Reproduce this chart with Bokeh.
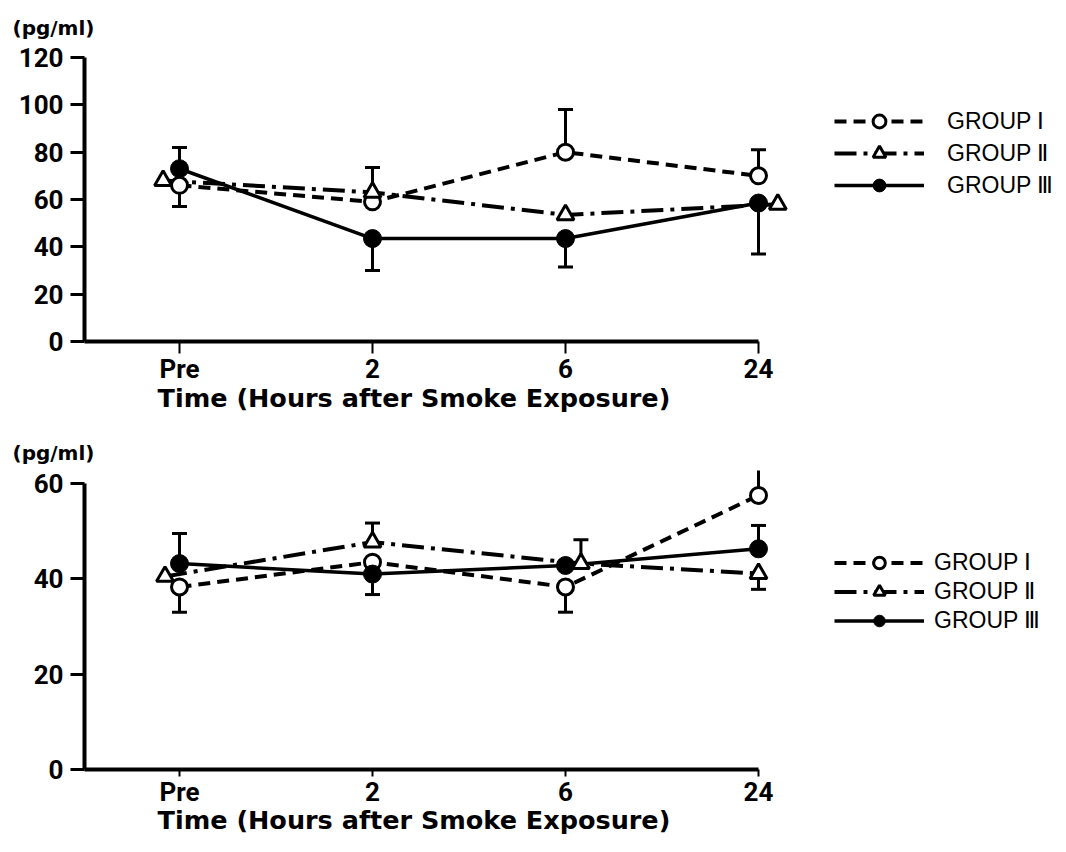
from bokeh.plotting import figure
from bokeh.models import (Range1d, FixedTicker, Whisker, TeeHead, ColumnDataSource,
                          Legend, LegendItem, Title)
from bokeh.layouts import column
from bokeh.embed import file_html
from bokeh.resources import INLINE

# ---------------- data ----------------
TIMES = ["Pre", "2", "6", "24"]
GROUPS = ["GROUP \u2160", "GROUP \u2161", "GROUP \u2162"]
UNIT = "(pg/ml)"
X_TITLE = "Time (Hours after Smoke Exposure)"

# upper panel
TOP_Y_TICKS = [0, 20, 40, 60, 80, 100, 120]
TOP_G1 = [66, 59, 80, 70]
TOP_G2 = [68, 63, 53.5, 58]
TOP_G3 = [73, 43.5, 43.5, 58.5]
TOP_G1_ERR_UP = [None, None, 98, 81]
TOP_G1_ERR_DOWN = [57, None, None, None]
TOP_G2_ERR_UP = [None, 73.5, None, None]
TOP_G2_ERR_DOWN = [None, None, None, None]
TOP_G3_ERR_UP = [82, None, None, None]
TOP_G3_ERR_DOWN = [None, 30, 31.5, 37]

# lower panel
BOT_Y_TICKS = [0, 20, 40, 60]
BOT_G1 = [38.3, 43.5, 38.3, 57.5]
BOT_G2 = [40.5, 47.7, 43.2, 41.1]
BOT_G3 = [43.2, 41, 42.8, 46.3]
BOT_G1_ERR_UP = [None, None, None, 64.7]
BOT_G1_ERR_DOWN = [33, None, 33, None]
BOT_G2_ERR_UP = [None, 51.7, 48.2, None]
BOT_G2_ERR_DOWN = [None, None, None, 37.8]
BOT_G3_ERR_UP = [49.5, None, None, 51.2]
BOT_G3_ERR_DOWN = [None, 36.7, None, None]

# ---------------- styling ----------------
# small horizontal dodge of the triangle markers (as in the original print)
TOP_G2_DODGE = [-0.085, 0, 0, 0.1]
BOT_G2_DODGE = [-0.075, 0, 0.08, 0]

TICK_FONT = "Roboto"
TITLE_FONT = "DejaVu Sans"
LEGEND_FONT = "Liberation Sans"
PX_PER_CAT = 193.0
WIDTH = 1058
LEFT = 84


def make_panel(height, top, bottom, y_px_per_unit, y_ticks, y_max_axis,
               g_vals, g_up, g_down, g2_dodge, x_tick_out, legend_loc,
               legend_pitch, legend_standoff, unit_offset, unit_standoff,
               title_offset, title_standoff):
    frame_w = WIDTH - LEFT
    frame_h = height - top - bottom
    x0 = -95.0 / PX_PER_CAT
    x1 = x0 + frame_w / PX_PER_CAT
    y1 = frame_h / y_px_per_unit
    p = figure(width=WIDTH, height=height, x_range=Range1d(x0, x1),
               y_range=Range1d(0, y1), output_backend="svg",
               toolbar_location=None, min_border_left=LEFT, min_border_right=0,
               min_border_top=top, min_border_bottom=bottom)
    p.outline_line_color = None
    p.grid.visible = False
    p.background_fill_color = "white"
    p.border_fill_color = "white"

    # unit label above the y axis
    p.title.text = UNIT
    p.title.align = "left"
    p.title.offset = unit_offset
    p.title.standoff = unit_standoff
    p.title.text_font = TITLE_FONT
    p.title.text_font_style = "bold"
    p.title.text_font_size = "20px"
    p.title.text_color = "black"

    # x-axis title (left-aligned under the axis as in the original)
    p.add_layout(Title(text=X_TITLE, align="left", offset=title_offset,
                       standoff=title_standoff, text_font=TITLE_FONT,
                       text_font_style="bold", text_font_size="25.5px",
                       text_color="black"), "below")

    # axes
    xa = p.xaxis[0]
    xa.ticker = FixedTicker(ticks=list(range(len(TIMES))))
    xa.major_label_overrides = {i: t for i, t in enumerate(TIMES)}
    xa.bounds = (x0, len(TIMES) - 1)
    xa.axis_line_width = 4
    xa.major_tick_line_width = 2
    xa.major_tick_in = 0
    xa.major_tick_out = x_tick_out
    xa.minor_tick_line_color = None
    xa.major_label_standoff = 0
    xa.major_label_text_font = TICK_FONT
    xa.major_label_text_font_style = "bold"
    xa.major_label_text_font_size = "26px"
    xa.major_label_text_color = "black"

    ya = p.yaxis[0]
    ya.ticker = FixedTicker(ticks=y_ticks)
    ya.bounds = (0, y_max_axis)
    ya.axis_line_width = 4
    ya.major_tick_line_width = 3
    ya.major_tick_in = 0
    ya.major_tick_out = 14
    ya.minor_tick_line_color = None
    ya.major_label_standoff = 7
    ya.major_label_text_font = TICK_FONT
    ya.major_label_text_font_style = "bold"
    ya.major_label_text_font_size = "26px"
    ya.major_label_text_color = "black"

    n = len(TIMES)
    xs = [list(range(n)), [i + d for i, d in enumerate(g2_dodge)], list(range(n))]

    # error bars (one-sided)
    up = dict(base=[], lower=[], upper=[])
    dn = dict(base=[], lower=[], upper=[])
    for gx, gv, gu, gd in zip(xs, g_vals, g_up, g_down):
        for x, v, u, d in zip(gx, gv, gu, gd):
            if u is not None:
                up["base"].append(x); up["lower"].append(v); up["upper"].append(u)
            if d is not None:
                dn["base"].append(x); dn["lower"].append(d); dn["upper"].append(v)
    p.add_layout(Whisker(source=ColumnDataSource(up), base="base", lower="lower",
                         upper="upper", dimension="height", line_width=3,
                         line_color="black", lower_head=None,
                         upper_head=TeeHead(size=15, line_width=3, line_color="black")))
    p.add_layout(Whisker(source=ColumnDataSource(dn), base="base", lower="lower",
                         upper="upper", dimension="height", line_width=3,
                         line_color="black", upper_head=None,
                         lower_head=TeeHead(size=15, line_width=3, line_color="black")))

    dashes = ["12 7", "22 7 4 7", "solid"]
    lines = []
    for gx, gv, dash in zip(xs, g_vals, dashes):
        lines.append(p.line(gx, gv, line_color="black",
                            line_width=4 if dash != "solid" else 3.5, line_dash=dash))
    marks = []
    marks.append(p.scatter(xs[0], g_vals[0], marker="circle", size=16,
                           fill_color="white", line_color="black", line_width=3))
    marks.append(p.scatter(xs[1], g_vals[1], marker="triangle", size=17,
                           fill_color="white", line_color="black", line_width=3))
    marks.append(p.scatter(xs[2], g_vals[2], marker="circle", size=18,
                           fill_color="black", line_color="black", line_width=1))

    items = [LegendItem(label=g, renderers=[l, m]) for g, l, m in zip(GROUPS, lines, marks)]
    leg = Legend(items=items, location=legend_loc, orientation="vertical",
                 glyph_width=90, glyph_height=legend_pitch, label_height=legend_pitch,
                 spacing=0, padding=0, margin=0,
                 label_standoff=legend_standoff,
                 label_text_font=LEGEND_FONT, label_text_font_size="23px",
                 label_text_color="black", border_line_color=None,
                 background_fill_alpha=0)
    p.add_layout(leg)
    return p


p1 = make_panel(420, 45, 79, 284.0 / 120.0, TOP_Y_TICKS, 120,
                [TOP_G1, TOP_G2, TOP_G3],
                [TOP_G1_ERR_UP, TOP_G2_ERR_UP, TOP_G3_ERR_UP],
                [TOP_G1_ERR_DOWN, TOP_G2_ERR_DOWN, TOP_G3_ERR_DOWN],
                TOP_G2_DODGE, 12, (750, 140), 32, 23, -72, 12, 73, -12)

p2 = make_panel(428, 50, 79, 286.0 / 60.0, BOT_Y_TICKS, 60,
                [BOT_G1, BOT_G2, BOT_G3],
                [BOT_G1_ERR_UP, BOT_G2_ERR_UP, BOT_G3_ERR_UP],
                [BOT_G1_ERR_DOWN, BOT_G2_ERR_DOWN, BOT_G3_ERR_DOWN],
                BOT_G2_DODGE, 7, (750, 134), 29, 10, -72, 12, 73, -14)

layout = column(p1, p2)
open("out.html", "w").write(file_html(layout, INLINE))
